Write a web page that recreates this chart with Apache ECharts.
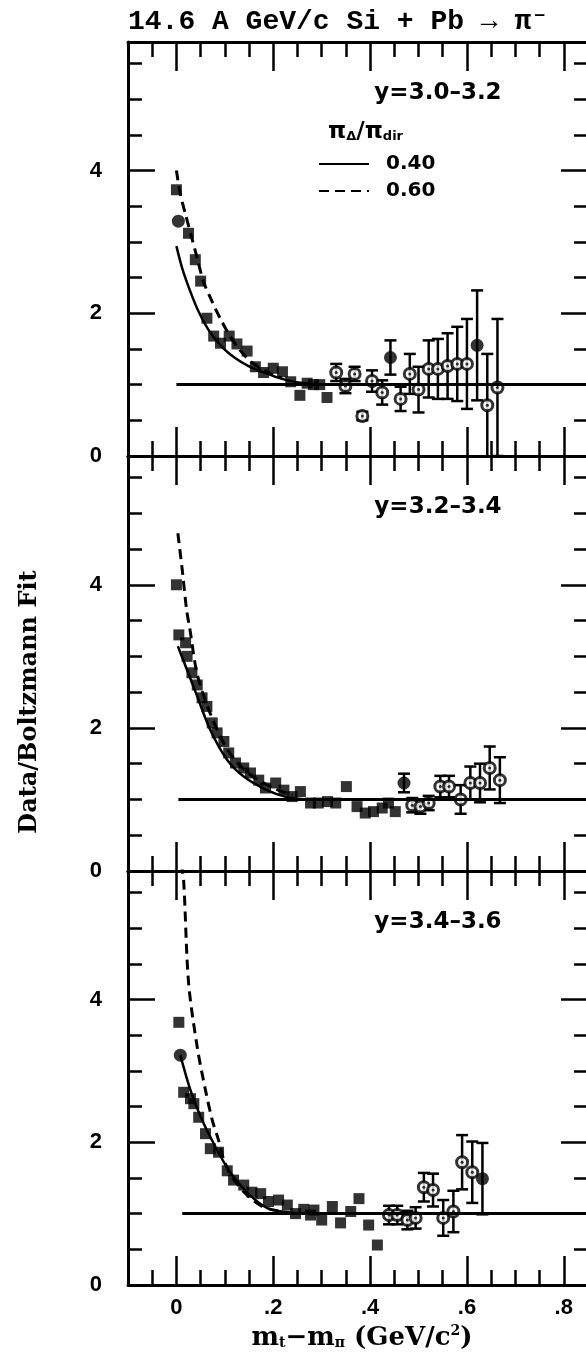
<!DOCTYPE html>
<html>
<head>
<meta charset="utf-8">
<script src="https://cdn.jsdelivr.net/npm/echarts@6/dist/echarts.min.js"></script>
<style>
  html, body { margin: 0; padding: 0; background: #fff; overflow: hidden; }
  #chart { width: 586px; height: 1356px; }
</style>
</head>
<body>
<div id="chart"></div>
<script>
// ---- data: [mt-m, ratio] or [mt-m, ratio, error] ----
const xTickValues = [0, 0.2, 0.4, 0.6, 0.8];
const yTickValues = [0, 2, 4];
const panelLabels = ['y=3.0\u20133.2', 'y=3.2\u20133.4', 'y=3.4\u20133.6'];
const legendNames = ['0.40', '0.60'];

// y = 3.0-3.2
const p1Squares = [[0.0,3.73],[0.025,3.12],[0.039,2.75],[0.05,2.45],[0.063,1.93],[0.077,1.68],[0.091,1.58],
  [0.109,1.68],[0.125,1.57],[0.146,1.47],[0.163,1.25],[0.18,1.17],[0.2,1.23],[0.219,1.18],[0.236,1.04],
  [0.255,0.85],[0.27,1.02],[0.283,1.0],[0.296,1.0],[0.311,0.82]];
const p1Open = [[0.33,1.17,0.12],[0.349,0.98,0.1],[0.368,1.15,0.1],[0.384,0.56,0.06],[0.404,1.05,0.15],
  [0.425,0.89,0.17],[0.463,0.8,0.17],[0.482,1.15,0.28],[0.5,0.93,0.32],[0.521,1.22,0.4],[0.54,1.22,0.42],
  [0.56,1.26,0.46],[0.58,1.29,0.52],[0.6,1.29,0.63],[0.642,0.71,0.72],[0.663,0.96,0.96]];
const p1Filled = [[0.004,3.29,0],[0.442,1.38,0.24],[0.621,1.55,0.77]];
const p1Solid = [[0,2.94],[0.012,2.63],[0.029,2.3],[0.046,2.02],[0.067,1.76],[0.094,1.53],[0.122,1.37],
  [0.149,1.26],[0.184,1.16],[0.218,1.08],[0.252,1.03],[0.3,1.0]];
const p1Dashed = [[0,4.0],[0.008,3.67],[0.019,3.38],[0.032,3.05],[0.043,2.77],[0.056,2.44],[0.074,2.16],
  [0.091,1.92],[0.108,1.71],[0.129,1.5],[0.156,1.31],[0.19,1.17],[0.218,1.09]];
const p1Flat = [[0,1],[0.85,1]];

// y = 3.2-3.4
const p2Squares = [[0.0,4.0],[0.005,3.3],[0.019,3.19],[0.022,3.0],[0.032,2.77],[0.043,2.6],[0.053,2.42],
  [0.063,2.3],[0.074,2.07],[0.084,1.93],[0.098,1.81],[0.108,1.65],[0.122,1.51],[0.139,1.44],[0.153,1.37],
  [0.17,1.27],[0.184,1.16],[0.205,1.23],[0.222,1.13],[0.239,1.04],[0.256,1.11],[0.277,0.95],[0.293,0.95],
  [0.312,0.97],[0.329,0.95],[0.351,1.18],[0.373,0.9],[0.39,0.81],[0.407,0.83],[0.425,0.88],[0.438,0.95],
  [0.452,0.83]];
const p2Open = [[0.487,0.92,0.1],[0.504,0.9,0.1],[0.521,0.95,0.1],[0.545,1.18,0.15],[0.563,1.18,0.15],
  [0.587,1.0,0.2],[0.607,1.23,0.23],[0.627,1.23,0.27],[0.647,1.44,0.3],[0.668,1.27,0.32]];
const p2Filled = [[0.47,1.23,0.13]];
const p2Solid = [[0.003,3.14],[0.022,2.81],[0.043,2.44],[0.07,1.97],[0.105,1.55],[0.139,1.32],[0.187,1.13],
  [0.229,1.03],[0.27,1.0]];
const p2Dashed = [[0.003,4.72],[0.012,4.21],[0.021,3.65],[0.028,3.37],[0.043,2.75],[0.07,2.2],[0.105,1.7],
  [0.146,1.38],[0.2,1.16],[0.24,1.06]];
const p2Flat = [[0.004,1],[0.85,1]];

// y = 3.4-3.6
const p3Squares = [[0.005,3.68],[0.015,2.7],[0.029,2.61],[0.036,2.54],[0.046,2.35],[0.06,2.12],[0.07,1.91],
  [0.087,1.86],[0.105,1.6],[0.118,1.47],[0.139,1.4],[0.156,1.3],[0.174,1.28],[0.19,1.17],[0.211,1.19],
  [0.229,1.12],[0.246,1.0],[0.263,1.06],[0.277,0.98],[0.284,1.05],[0.3,0.91],[0.322,1.1],[0.339,0.87],
  [0.36,1.03],[0.377,1.21],[0.397,0.84],[0.415,0.56]];
const p3Open = [[0.439,0.98,0.13],[0.456,0.98,0.13],[0.477,0.91,0.13],[0.494,0.94,0.15],[0.511,1.37,0.2],
  [0.53,1.33,0.23],[0.551,0.94,0.25],[0.572,1.03,0.29],[0.59,1.72,0.38],[0.611,1.58,0.43]];
const p3Filled = [[0.008,3.22,0],[0.632,1.49,0.5]];
const p3Solid = [[0.008,3.22],[0.029,2.73],[0.053,2.31],[0.081,1.93],[0.108,1.61],[0.136,1.37],[0.163,1.19],
  [0.19,1.07],[0.218,1.03],[0.26,1.0]];
const p3Dashed = [[0.01,5.9],[0.015,5.66],[0.025,4.24],[0.043,3.33],[0.06,2.73],[0.074,2.31],[0.087,2.03],
  [0.098,1.75],[0.115,1.51],[0.143,1.28],[0.177,1.1],[0.21,1.04]];
const p3Flat = [[0.012,1],[0.85,1]];

const panels = [
  { squares: p1Squares, open: p1Open, filled: p1Filled, solid: p1Solid, dashed: p1Dashed, flat: p1Flat },
  { squares: p2Squares, open: p2Open, filled: p2Filled, solid: p2Solid, dashed: p2Dashed, flat: p2Flat },
  { squares: p3Squares, open: p3Open, filled: p3Filled, solid: p3Solid, dashed: p3Dashed, flat: p3Flat }
];

// ---- layout ----
const xMin = -0.1, xMax = 0.85, yMax = 5.8;
const panelTops = [42, 456, 871];
const panelHeights = [414, 415, 414];
const labelFont = '"Liberation Sans", Arial, sans-serif';
const wideFont = '"DejaVu Sans", sans-serif';
const serifFont = '"DejaVu Serif", serif';
const monoFont = '"Liberation Mono", monospace';

const chart = echarts.init(document.getElementById('chart'));

const grids = [], xAxes = [], yAxes = [];
panels.forEach((p, i) => {
  // two grids on the same rectangle: one for the minor ticks, one for the long ones
  [false, true].forEach(major => {
    const g = grids.length;
    grids.push({ left: 128, top: panelTops[i], width: 460, height: panelHeights[i], outerBoundsMode: 'none' });
    ['bottom', 'top'].forEach(pos => {
      xAxes.push({
        type: 'value', gridIndex: g, position: pos, min: xMin, max: xMax,
        interval: major ? undefined : 0.05,
        axisLine: { show: !major, onZero: false, lineStyle: { color: '#000', width: 3 } },
        axisTick: { show: true, inside: true, length: major ? 29 : 15,
          customValues: major ? xTickValues : undefined,
          lineStyle: { color: '#000', width: 2.5 } },
        axisLabel: { show: major && pos === 'bottom' && i === 2, customValues: xTickValues,
          margin: 12, color: '#000', fontFamily: labelFont, fontWeight: 'bold', fontSize: 22,
          formatter: v => v === 0 ? '0' : v.toFixed(1).replace(/^0/, '') },
        splitLine: { show: false }
      });
    });
    ['left', 'right'].forEach(pos => {
      yAxes.push({
        type: 'value', gridIndex: g, position: pos, min: 0, max: yMax,
        interval: major ? undefined : 0.5,
        axisLine: { show: !major, onZero: false, lineStyle: { color: '#000', width: 3 } },
        axisTick: { show: true, inside: true, length: major ? 27 : 14,
          customValues: major ? yTickValues : undefined,
          lineStyle: { color: '#000', width: 2.5 } },
        axisLabel: { show: major && pos === 'left', customValues: yTickValues,
          margin: 26, color: '#000', fontFamily: labelFont, fontWeight: 'bold', fontSize: 22 },
        splitLine: { show: false }
      });
    });
  });
});

function errorBars(params, api) {
  const x = api.value(0), y = api.value(1), e = api.value(2);
  if (!e) return null;
  const lo = api.coord([x, y - e]);
  const hi = api.coord([x, y + e]);
  const cap = 6;
  const st = { stroke: '#000', lineWidth: 2.5 };
  return {
    type: 'group',
    children: [
      { type: 'line', shape: { x1: lo[0], y1: lo[1], x2: hi[0], y2: hi[1] }, style: st },
      { type: 'line', shape: { x1: hi[0] - cap, y1: hi[1], x2: hi[0] + cap, y2: hi[1] }, style: st },
      { type: 'line', shape: { x1: lo[0] - cap, y1: lo[1], x2: lo[0] + cap, y2: lo[1] }, style: st }
    ]
  };
}

const series = [];
panels.forEach((p, i) => {
  const ax = { xAxisIndex: 4 * i, yAxisIndex: 4 * i };
  series.push(
    { ...ax, type: 'line', name: 'flat', data: p.flat, symbol: 'none', silent: true,
      lineStyle: { color: '#000', width: 3 } },
    { ...ax, type: 'line', name: '0.40', data: p.solid, symbol: 'none', smooth: 0.3, silent: true,
      color: '#000', lineStyle: { color: '#000', width: 2.5 } },
    { ...ax, type: 'line', name: '0.60', data: p.dashed, symbol: 'none', smooth: 0.3, silent: true,
      color: '#000', lineStyle: { color: '#000', width: 3, type: [10, 6] } },
    { ...ax, type: 'custom', data: p.open.concat(p.filled), renderItem: errorBars, clip: true, silent: true },
    { ...ax, type: 'scatter', data: p.squares, symbol: 'rect', symbolSize: 11, silent: true,
      itemStyle: { color: '#000' } },
    { ...ax, type: 'scatter', data: p.open, symbol: 'circle', symbolSize: 11, silent: true,
      itemStyle: { color: '#fff', borderColor: '#000', borderWidth: 3 } },
    { ...ax, type: 'scatter', data: p.open, symbol: 'circle', symbolSize: 3, silent: true,
      itemStyle: { color: '#000' } },
    { ...ax, type: 'scatter', data: p.filled, symbol: 'circle', symbolSize: 13, silent: true,
      itemStyle: { color: '#000' } }
  );
});

const graphics = [
  { type: 'text', left: 128, top: 8,
    style: { text: '14.6 A GeV/c Si + Pb \u2192 \u03c0\u207b', font: 'bold 28px ' + monoFont, fill: '#000' } },
  { type: 'text', x: 30, y: 702, rotation: Math.PI / 2,
    style: { text: 'Data/Boltzmann Fit', font: 'bold 24px ' + serifFont, fill: '#000',
      align: 'center', verticalAlign: 'middle' } },
  { type: 'text', x: 362, y: 1338,
    style: { text: 'm{s|t}\u2212m{s|\u03c0} (GeV/c{p|2})', font: 'bold 26px ' + serifFont, fill: '#000',
      align: 'center', verticalAlign: 'middle',
      rich: { s: { font: 'bold 14px ' + serifFont, padding: [11, 0, 0, 0] },
              p: { font: 'bold 14px ' + serifFont, padding: [0, 0, 13, 0] } } } },
  { type: 'text', x: 328, y: 132,
    style: { text: '\u03c0{s|\u0394}/\u03c0{s|dir}', font: 'bold 23px ' + wideFont, fill: '#000',
      align: 'left', verticalAlign: 'middle',
      rich: { s: { font: 'bold 13px ' + wideFont, padding: [9, 0, 0, 0] } } } }
];
panelLabels.forEach((t, i) => {
  graphics.push({ type: 'text', x: 438, y: panelTops[i] + 51,
    style: { text: t, font: 'bold 23px ' + wideFont, fill: '#000', align: 'center', verticalAlign: 'middle' } });
});

chart.setOption({
  animation: false,
  backgroundColor: '#fff',
  grid: grids,
  xAxis: xAxes,
  yAxis: yAxes,
  legend: {
    data: legendNames, orient: 'vertical', left: 313, top: 149, itemWidth: 50, itemHeight: 14, itemGap: 7,
    selectedMode: false,
    itemStyle: { color: 'transparent', borderWidth: 0, opacity: 0 },
    textStyle: { color: '#000', fontFamily: wideFont, fontWeight: 'bold', fontSize: 20, padding: [0, 0, 0, 12] }
  },
  graphic: graphics,
  series: series
});
</script>
</body>
</html>
